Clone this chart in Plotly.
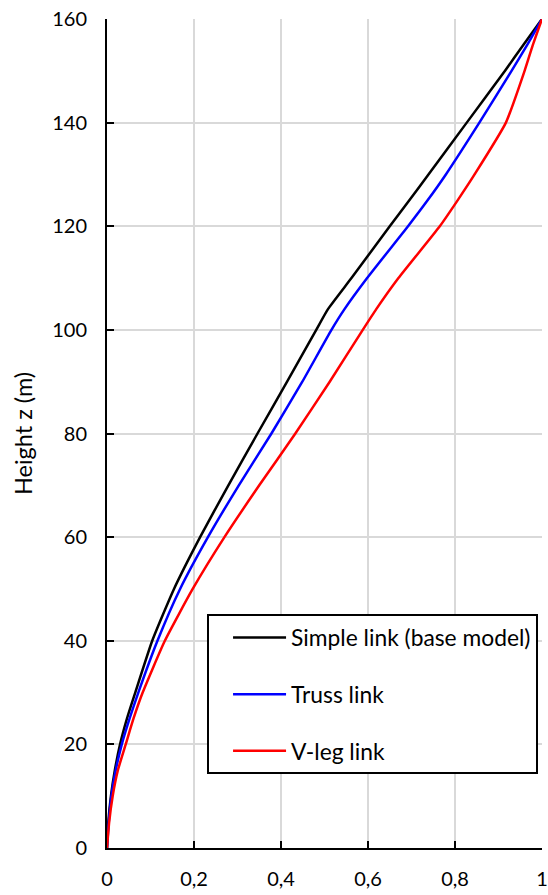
import plotly.graph_objects as go

# Heights along the tower (m)
height_z = [0, 5, 10, 15, 20, 25, 30, 40, 50, 60, 70, 80, 90, 100, 104,
            110, 120, 125, 130, 140, 150, 155, 160]

# Normalised displacement for each link type
simple_link = [0, 0.003, 0.009, 0.018, 0.030, 0.046, 0.065, 0.104, 0.154,
               0.214, 0.279, 0.346, 0.414, 0.481, 0.508, 0.562, 0.650,
               0.695, 0.739, 0.827, 0.915, 0.957, 1.0]
truss_link = [0, 0.004, 0.010, 0.020, 0.034, 0.052, 0.072, 0.116, 0.168,
              0.232, 0.303, 0.378, 0.449, 0.516, 0.546, 0.598, 0.692,
              0.737, 0.779, 0.856, 0.930, 0.966, 1.0]
vleg_link = [0, 0.005, 0.013, 0.025, 0.043, 0.061, 0.082, 0.133, 0.197,
             0.270, 0.350, 0.433, 0.512, 0.588, 0.619, 0.670, 0.765,
             0.806, 0.845, 0.917, 0.960, 0.979, 1.0]

x_ticks = [0, 0.2, 0.4, 0.6, 0.8, 1]
y_ticks = [0, 20, 40, 60, 80, 100, 120, 140, 160]

series = [
    ("Simple link (base model)", simple_link, "#000000"),
    ("Truss link", truss_link, "#0000ff"),
    ("V-leg link", vleg_link, "#ff0000"),
]

FONT = "Lato"

fig = go.Figure()
for i, (name, xs, color) in enumerate(series):
    fig.add_trace(go.Scatter(
        x=xs, y=height_z, mode="lines", name=name,
        line=dict(color=color, width=2.5, shape="spline", smoothing=0.5),
        legendgroup=f"g{i}",
    ))

fig.update_layout(
    width=548, height=895,
    margin=dict(l=107, r=6, t=19, b=47, autoexpand=False),
    paper_bgcolor="white", plot_bgcolor="white",
    separators=", ",
    font=dict(family=FONT, size=20, color="#000000"),
    showlegend=True,
    legend=dict(
        x=0.230, y=0.282, xanchor="left", yanchor="top",
        bgcolor="white", bordercolor="#000000", borderwidth=2,
        font=dict(family=FONT, size=22.8, color="#000000"),
        itemwidth=53, tracegroupgap=24, indentation=19,
    ),
    xaxis=dict(
        range=[0, 1], tickvals=x_ticks, automargin=False,
        showgrid=True, gridcolor="#d9d9d9", gridwidth=1.5,
        showline=True, linecolor="#000000", linewidth=2,
        ticks="inside", ticklen=7, tickwidth=2, tickcolor="#000000",
        zeroline=False, ticklabelstandoff=12, ticklabeloverflow="allow",
    ),
    yaxis=dict(
        range=[0, 160], tickvals=y_ticks, automargin=False,
        showgrid=True, gridcolor="#d9d9d9", gridwidth=1.5,
        showline=True, linecolor="#000000", linewidth=2,
        ticks="inside", ticklen=7, tickwidth=2, tickcolor="#000000",
        zeroline=False, ticklabelstandoff=14,
        title=dict(text="Height z (m)", font=dict(family=FONT, size=23.5), standoff=13),
    ),
)

fig.write_html("out.html")
